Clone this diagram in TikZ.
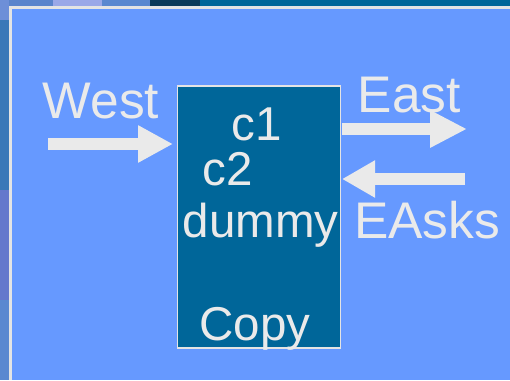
\documentclass[tikz,border=0pt]{standalone}
\usepackage{fontspec}
\setmainfont{Liberation Sans}
\usetikzlibrary{arrows.meta}
\definecolor{panel}{HTML}{6699FF}
\definecolor{boxfill}{HTML}{006699}
\definecolor{ink}{HTML}{EAEAEA}
\definecolor{rim}{HTML}{E4E4E4}
\definecolor{backA}{HTML}{5A84CC}
\definecolor{backB}{RGB}{154,168,232}
\definecolor{backC}{RGB}{90,136,208}
\definecolor{backD}{RGB}{10,58,90}
\definecolor{backE}{RGB}{109,143,216}
\definecolor{backF}{RGB}{58,120,184}
\definecolor{backG}{RGB}{100,120,204}
\tikzset{
  lbl/.style={text=ink, inner sep=0pt, anchor=base west, font=\fontsize{51.5}{60}\selectfont},
  inlbl/.style={text=ink, inner sep=0pt, anchor=base west, font=\fontsize{47.5}{55}\selectfont},
  blockarrow/.style={draw=ink, line width=12pt, -{Triangle[length=#1, width=35pt]}},
}
\begin{document}
\begin{tikzpicture}[x=1pt,y=-1pt]
  \useasboundingbox (0,0) rectangle (510,380);
  % slide backdrop along the top and left edges
  \fill[backA] (0,0) rectangle (510,380);
  \fill[backB] (53,0) rectangle (102,7);
  \fill[backC] (102,0) rectangle (150,7);
  \fill[backD] (150,0) rectangle (200,7);
  \fill[boxfill] (200,0) rectangle (510,7);
  \fill[backE] (0,0) rectangle (9,20);
  \fill[backF] (0,20) rectangle (9,190);
  \fill[backG] (0,190) rectangle (9,300);
  \fill[backC] (0,300) rectangle (9,380);
  % panel
  \fill[rim] (9,6) rectangle (510,380);
  \fill[panel] (11.5,8.5) rectangle (510,380);

  % the component box
  \node[draw=rim, line width=1.5pt, fill=boxfill, minimum width=163pt,
        minimum height=262pt, inner sep=0pt] (box) at (259,217) {};
  \node[inlbl] (c1) at (231.5,140) {c1};
  \node[inlbl] (c2) at (202.5,185) {c2};
  \node[inlbl] (dummy) at (182.5,237) {dummy};
  \node[inlbl] (copy) at (199.5,340) {Copy};

  % port labels
  \node[lbl] (west) at (42.5,118) {West};
  \node[lbl] (east) at (357.5,112) {East};
  \node[lbl] (easks) at (354,238) {EAsks};

  % port arrows
  \coordinate (w0) at (48,144);
  \coordinate (w1) at (173,144);
  \coordinate (e0) at (342,129);
  \coordinate (e1) at (467,129);
  \coordinate (a0) at (465,179);
  \coordinate (a1) at (342,179);
  \draw[blockarrow=35pt] (w0) -- (w1);
  \draw[blockarrow=37pt] (e0) -- (e1);
  \draw[blockarrow=33pt] (a0) -- (a1);
\end{tikzpicture}
\end{document}
